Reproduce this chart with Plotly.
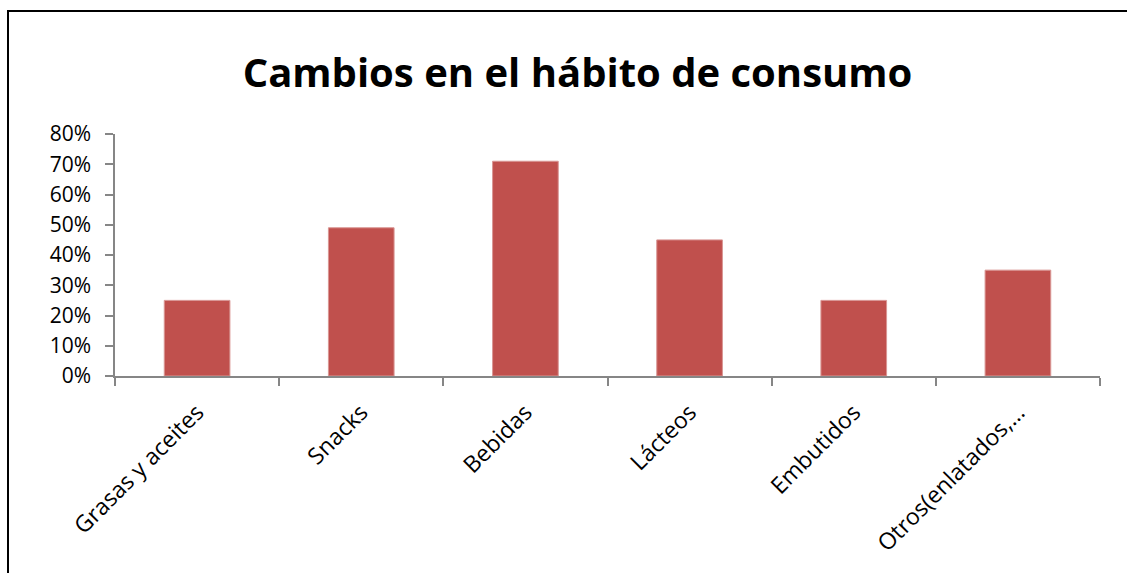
import plotly.graph_objects as go

categories = ["Grasas y aceites", "Snacks", "Bebidas", "Lácteos", "Embutidos", "Otros(enlatados,…"]
values = [0.25, 0.49, 0.71, 0.45, 0.25, 0.35]
y_ticks = [0, 0.1, 0.2, 0.3, 0.4, 0.5, 0.6, 0.7, 0.8]
y_tick_labels = ["0%", "10%", "20%", "30%", "40%", "50%", "60%", "70%", "80%"]
title_text = "Cambios en el hábito de consumo"

W, H = 1127, 573
ml, mr, mt, mb = 115, 27, 134, 197
pw, ph = W - ml - mr, H - mt - mb

def px_to_paper_x(px):
    return (px - ml) / pw

def px_to_paper_y(py):
    return (H - mb - py) / ph

fig = go.Figure(go.Bar(
    x=categories, y=values,
    marker=dict(color="#C0504D", line=dict(color="#D99694", width=1)),
    width=0.4,
))

fig.update_layout(
    width=W, height=H,
    margin=dict(l=ml, r=mr, t=mt, b=mb),
    paper_bgcolor="white", plot_bgcolor="white",
    showlegend=False,
    font=dict(family="Open Sans", color="black", size=20),
    title=dict(text=f"<b>{title_text}</b>", x=577.5 / W, xref="container", xanchor="center",
               y=1 - 73 / H, yref="container", yanchor="middle",
               font=dict(family="Open Sans", size=40, color="black")),
)
fig.update_xaxes(
    type="category", tickangle=-45, tickson="boundaries",
    ticks="outside", ticklen=8, tickcolor="#868686", tickwidth=1.5,
    showline=True, linecolor="#868686", linewidth=1.5,
    showgrid=False, zeroline=False, ticklabelstandoff=12,
    tickfont=dict(family="Open Sans", size=23, color="black"),
)
fig.update_yaxes(
    range=[0, 0.8], tickvals=y_ticks, ticktext=y_tick_labels,
    ticks="outside", ticklen=8, tickcolor="#868686", tickwidth=1.5,
    showline=True, linecolor="#868686", linewidth=1.5,
    showgrid=False, zeroline=False, ticklabelstandoff=10,
    tickfont=dict(family="Open Sans", size=21, color="black"),
)
fig.add_shape(type="rect", xref="paper", yref="paper",
              x0=px_to_paper_x(8), x1=px_to_paper_x(1140),
              y0=px_to_paper_y(590), y1=px_to_paper_y(11),
              line=dict(color="black", width=2), fillcolor="rgba(0,0,0,0)", layer="above")

fig.write_html("out.html")
